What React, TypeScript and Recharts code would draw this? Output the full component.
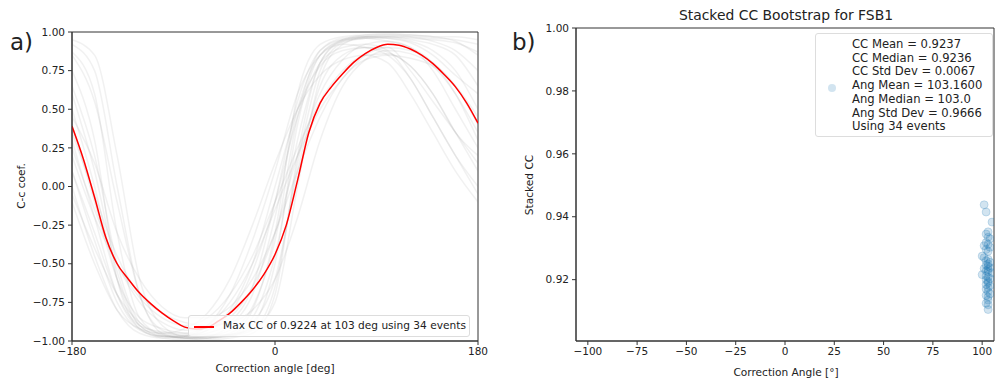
import { LineChart, Line, ScatterChart, Scatter, XAxis, YAxis, Legend, ReferenceArea } from 'recharts';

// red max-CC curve, sampled every 10 deg
const redAngles = [-180, -170, -160, -150, -140, -130, -120, -110, -100, -90, -80, -70, -60, -50, -40, -30, -20, -10, 0, 10, 20, 30, 40, 50, 60, 70, 80, 90, 100, 110, 120, 130, 140, 150, 160, 170, 180];
const redValues = [0.39, 0.18, -0.07, -0.33, -0.5, -0.6, -0.69, -0.76, -0.82, -0.87, -0.91, -0.922, -0.912, -0.87, -0.82, -0.75, -0.67, -0.57, -0.44, -0.25, 0.04, 0.35, 0.54, 0.645, 0.73, 0.805, 0.86, 0.9, 0.92, 0.915, 0.89, 0.85, 0.795, 0.725, 0.645, 0.54, 0.41];

// individual event curves, sampled every 20 deg
const greyAngles = [-180, -160, -140, -120, -100, -80, -60, -40, -20, 0, 20, 40, 60, 80, 100, 120, 140, 160, 180];
const greyCurves = [
  [0.87, 0.6, -0.3, -0.85, -0.96, -0.98, -0.98, -0.97, -0.9, -0.5, 0.4, 0.85, 0.95, 0.97, 0.97, 0.96, 0.95, 0.93, 0.87],
  [0.75, 0.3, -0.6, -0.92, -0.98, -0.99, -0.98, -0.95, -0.8, -0.3, 0.6, 0.92, 0.97, 0.98, 0.98, 0.97, 0.94, 0.88, 0.75],
  [0.5, 0.0, -0.6, -0.9, -0.97, -0.98, -0.97, -0.9, -0.7, -0.2, 0.5, 0.85, 0.94, 0.96, 0.96, 0.94, 0.88, 0.75, 0.5],
  [0.3, -0.2, -0.7, -0.92, -0.97, -0.97, -0.95, -0.88, -0.65, -0.1, 0.55, 0.88, 0.95, 0.96, 0.94, 0.9, 0.8, 0.6, 0.3],
  [0.2, -0.2, -0.5, -0.72, -0.85, -0.9, -0.85, -0.7, -0.45, -0.1, 0.25, 0.55, 0.75, 0.85, 0.86, 0.78, 0.6, 0.35, 0.2],
  [0.0, -0.45, -0.8, -0.95, -0.98, -0.97, -0.9, -0.7, -0.35, 0.1, 0.6, 0.85, 0.92, 0.9, 0.85, 0.7, 0.45, 0.2, 0.0],
  [0.95, 0.85, 0.2, -0.6, -0.9, -0.97, -0.97, -0.96, -0.92, -0.75, 0.0, 0.7, 0.92, 0.97, 0.98, 0.98, 0.97, 0.97, 0.95],
  [0.45, 0.15, -0.3, -0.6, -0.78, -0.85, -0.85, -0.78, -0.6, -0.3, 0.1, 0.45, 0.7, 0.82, 0.85, 0.83, 0.78, 0.65, 0.45],
  [0.1, -0.35, -0.75, -0.93, -0.97, -0.97, -0.93, -0.8, -0.5, 0.0, 0.5, 0.78, 0.88, 0.9, 0.87, 0.78, 0.6, 0.35, 0.1],
  [0.65, 0.2, -0.5, -0.88, -0.96, -0.98, -0.98, -0.96, -0.85, -0.45, 0.3, 0.8, 0.94, 0.97, 0.97, 0.95, 0.92, 0.85, 0.65],
  [-0.05, -0.4, -0.7, -0.88, -0.95, -0.96, -0.93, -0.82, -0.55, -0.1, 0.45, 0.8, 0.9, 0.92, 0.88, 0.7, 0.45, 0.2, -0.05],
  [0.4, -0.1, -0.6, -0.85, -0.92, -0.95, -0.96, -0.96, -0.88, -0.6, 0.1, 0.65, 0.85, 0.9, 0.9, 0.88, 0.8, 0.65, 0.4],
  [0.85, 0.55, -0.1, -0.7, -0.95, -0.98, -0.99, -0.98, -0.95, -0.7, 0.2, 0.8, 0.95, 0.98, 0.99, 0.98, 0.97, 0.94, 0.85],
  [0.25, -0.15, -0.5, -0.75, -0.88, -0.93, -0.92, -0.85, -0.65, -0.3, 0.2, 0.6, 0.82, 0.92, 0.94, 0.9, 0.75, 0.5, 0.25],
  [0.1, -0.3, -0.7, -0.9, -0.94, -0.95, -0.9, -0.75, -0.5, -0.15, 0.2, 0.5, 0.7, 0.85, 0.9, 0.75, 0.55, 0.35, 0.15],
  [0.6, 0.1, -0.55, -0.9, -0.97, -0.98, -0.97, -0.93, -0.78, -0.35, 0.45, 0.88, 0.96, 0.97, 0.96, 0.93, 0.85, 0.72, 0.6],
  [0.92, 0.75, 0.0, -0.7, -0.93, -0.97, -0.98, -0.97, -0.93, -0.65, 0.15, 0.75, 0.93, 0.96, 0.97, 0.97, 0.96, 0.95, 0.92],
  [-0.1, -0.5, -0.8, -0.92, -0.95, -0.92, -0.82, -0.6, -0.25, 0.15, 0.5, 0.72, 0.82, 0.85, 0.8, 0.6, 0.35, 0.1, -0.1],
  [0.35, -0.05, -0.45, -0.7, -0.82, -0.88, -0.9, -0.88, -0.8, -0.6, -0.2, 0.3, 0.65, 0.82, 0.88, 0.86, 0.78, 0.6, 0.35],
];

// bootstrap results (angle deg, stacked cc)
const bootAngles = [101, 102, 105, 103, 102, 103, 104, 102, 103, 101, 104, 102, 103, 100, 101, 103, 102, 104, 103, 102, 103, 104, 101, 103, 102, 103, 105, 100, 102, 103, 104, 102, 103, 103, 102, 104, 103, 102, 103, 104, 102, 103, 103, 102, 103, 103];
const bootCC = [0.9438, 0.9415, 0.9383, 0.9352, 0.9345, 0.9335, 0.933, 0.9318, 0.9312, 0.9308, 0.9303, 0.9296, 0.929, 0.9275, 0.927, 0.9265, 0.926, 0.9255, 0.925, 0.9246, 0.9242, 0.9238, 0.9235, 0.9232, 0.9228, 0.9225, 0.9222, 0.9216, 0.9212, 0.9208, 0.9204, 0.92, 0.9195, 0.919, 0.9185, 0.918, 0.9175, 0.917, 0.9162, 0.9155, 0.915, 0.9145, 0.9135, 0.9125, 0.912, 0.9105];

const leftXTicks = [-180, 0, 180];
const leftYTicks = [-1, -0.75, -0.5, -0.25, 0, 0.25, 0.5, 0.75, 1];
const rightXTicks = [-100, -75, -50, -25, 0, 25, 50, 75, 100];
const rightYTicks = [0.92, 0.94, 0.96, 0.98, 1.0];

const statLines = ['CC Mean = 0.9237', 'CC Median = 0.9236', 'CC Std Dev = 0.0067', 'Ang Mean = 103.1600', 'Ang Median = 103.0', 'Ang Std Dev = 0.9666', 'Using 34 events'];

const FONT = "'DejaVu Sans', sans-serif";
const minus = (s: string) => s.replace('-', '\u2212');
const tickStyle = { fill: '#222', fontSize: 10.5, fontFamily: FONT };

const redData = redAngles.map((deg, i) => ({ deg, v: redValues[i] }));
const greyData = greyCurves.map((c) => greyAngles.map((deg, i) => ({ deg, v: c[i] })));
const bootData = bootAngles.map((ang, i) => ({ ang, cc: bootCC[i] }));

const LeftLegend = () => (
  <div style={{ width: 280, height: 20, border: '1px solid #ddd', borderRadius: 3, background: 'rgba(255,255,255,0.8)', position: 'relative', fontFamily: FONT, fontSize: 10.6, color: '#222' }}>
    <div style={{ position: 'absolute', left: 5, top: 10, width: 20, height: 1.5, background: 'red' }} />
    <div style={{ position: 'absolute', left: 34, top: 3, whiteSpace: 'nowrap', lineHeight: '13px' }}>Max CC of 0.9224 at 103 deg using 34 events</div>
  </div>
);

const RightLegend = () => (
  <div style={{ width: 176, height: 102, border: '1px solid #ddd', borderRadius: 3, background: 'rgba(255,255,255,0.8)', position: 'relative', fontFamily: FONT, fontSize: 11.6, color: '#222' }}>
    <div style={{ position: 'absolute', left: 12, top: 50, width: 8, height: 8, borderRadius: 4, background: 'rgba(31,119,180,0.2)' }} />
    {statLines.map((t, i) => (
      <div key={t} style={{ position: 'absolute', left: 36, top: 3 + i * 13.7, whiteSpace: 'nowrap', lineHeight: '14px' }}>{t}</div>
    ))}
  </div>
);

const Dot = (props: any) => (
  <circle cx={props.cx} cy={props.cy} r={4} fill="#1f77b4" fillOpacity={0.2} stroke="#1f77b4" strokeOpacity={0.2} strokeWidth={1} />
);

export default function App() {
  return (
    <div style={{ position: 'absolute', left: 0, top: 0, width: 995, height: 383, overflow: 'hidden', background: '#fff' }}>
      <div style={{ position: 'absolute', left: 0, top: 0 }}>
        <LineChart width={490} height={383} margin={{ top: 32, right: 12, bottom: 0, left: 0 }}>
          <XAxis type="number" dataKey="deg" domain={[-180, 180]} ticks={leftXTicks} allowDataOverflow height={42} tickSize={4} tickMargin={3} stroke="#333" tick={tickStyle} tickFormatter={(v) => minus(String(v))} />
          <YAxis type="number" domain={[-1, 1]} ticks={leftYTicks} allowDataOverflow width={72} tickSize={4} tickMargin={3} stroke="#333" tick={tickStyle} tickFormatter={(v) => minus(v.toFixed(2))} />
          {greyData.map((d, i) => (
            <Line key={i} data={d} dataKey="v" type="monotone" stroke="#808080" strokeOpacity={0.11} strokeWidth={1.5} dot={false} legendType="none" isAnimationActive={false} />
          ))}
          <Line data={redData} dataKey="v" type="monotone" stroke="red" strokeWidth={1.5} dot={false} isAnimationActive={false} />
          <ReferenceArea x1={-180} x2={180} y1={-1} y2={1} fill="none" stroke="#333" strokeWidth={1} />
          <Legend layout="horizontal" verticalAlign="middle" align="center" content={() => <LeftLegend />} wrapperStyle={{ left: 188, top: 315, width: 282, height: 22 }} />
        </LineChart>
      </div>
      <div style={{ position: 'absolute', left: 500, top: 0 }}>
        <ScatterChart width={495} height={383} margin={{ top: 28, right: 1, bottom: 0, left: 0 }}>
          <XAxis type="number" dataKey="ang" domain={[-106, 106]} ticks={rightXTicks} allowDataOverflow height={42} tickSize={4} tickMargin={3} stroke="#333" tick={tickStyle} tickFormatter={(v) => minus(String(v))} />
          <YAxis type="number" dataKey="cc" domain={[0.9005, 1]} ticks={rightYTicks} allowDataOverflow width={76} tickSize={4} tickMargin={3} stroke="#333" tick={tickStyle} tickFormatter={(v) => v.toFixed(2)} />
          <Scatter data={bootData} shape={Dot} isAnimationActive={false} />
          <ReferenceArea x1={-106} x2={106} y1={0.9005} y2={1} fill="none" stroke="#333" strokeWidth={1} />
          <Legend layout="horizontal" verticalAlign="middle" align="center" content={() => <RightLegend />} wrapperStyle={{ left: 315, top: 33, width: 178, height: 104 }} />
        </ScatterChart>
      </div>
      <svg width={995} height={383} style={{ position: 'absolute', left: 0, top: 0, pointerEvents: 'none' }} fontFamily={FONT} fill="#222">
        <text x={10} y={50} fontSize={23}>a)</text>
        <text x={512} y={50} fontSize={23}>b)</text>
        <text x={786} y={20} fontSize={13.9} textAnchor="middle">Stacked CC Bootstrap for FSB1</text>
        <text x={275} y={372} fontSize={10.6} textAnchor="middle">Correction angle [deg]</text>
        <text x={786} y={376} fontSize={10.6} textAnchor="middle">Correction Angle [°]</text>
        <text transform="translate(25,186) rotate(-90)" fontSize={10.6} textAnchor="middle">C-c coef.</text>
        <text transform="translate(533,185) rotate(-90)" fontSize={10.6} textAnchor="middle">Stacked CC</text>
      </svg>
    </div>
  );
}
